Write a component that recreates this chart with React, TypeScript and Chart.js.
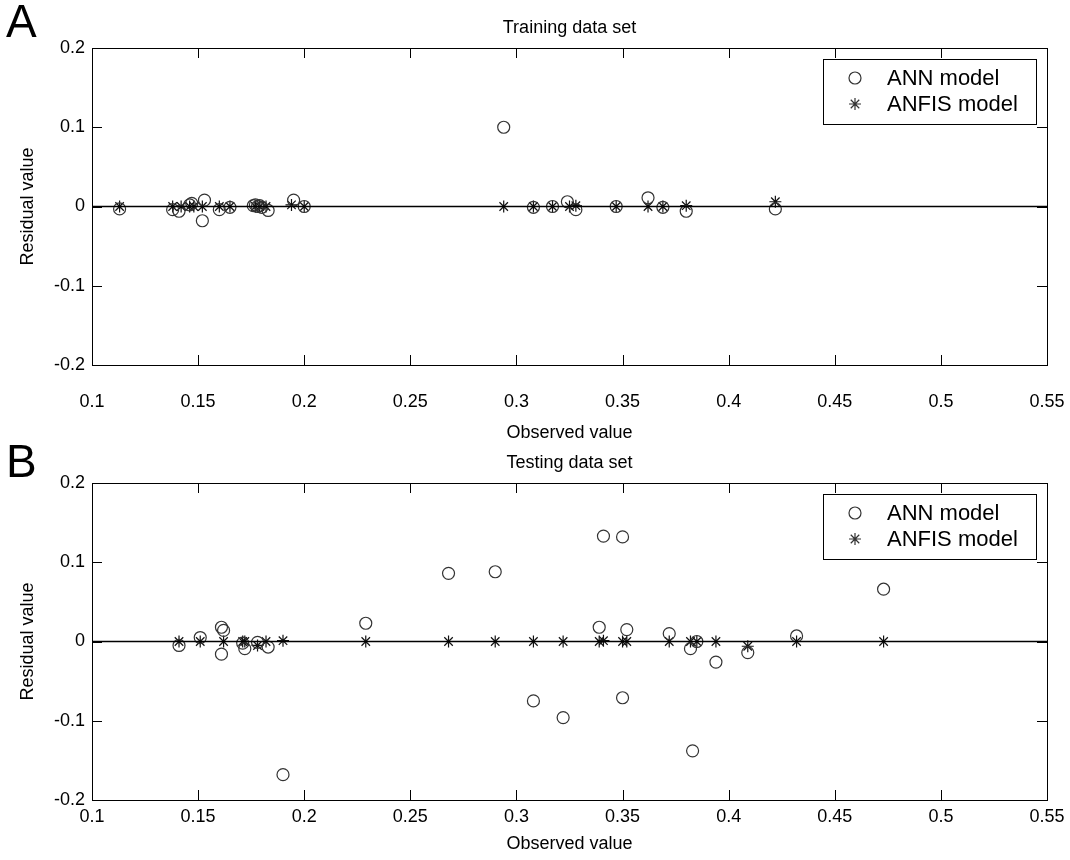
import React, { useEffect, useRef } from "react";
import { Chart, registerables } from "chart.js";

Chart.register(...registerables);

const FONT = "'Liberation Sans', Arial, sans-serif";

const X_MIN = 0.1;
const X_MAX = 0.55;
const Y_MIN = -0.2;
const Y_MAX = 0.2;
const xTicks = [0.1, 0.15, 0.2, 0.25, 0.3, 0.35, 0.4, 0.45, 0.5, 0.55];
const yTicks = [-0.2, -0.1, 0, 0.1, 0.2];

// Training data set
const trainAnnX = [0.113, 0.138, 0.141, 0.146, 0.147, 0.152, 0.153, 0.16, 0.165, 0.176, 0.177, 0.178, 0.179, 0.18, 0.183, 0.195, 0.2, 0.294, 0.308, 0.317, 0.324, 0.328, 0.347, 0.362, 0.369, 0.38, 0.422];
const trainAnnY = [-0.003, -0.004, -0.006, 0.002, 0.004, -0.018, 0.008, -0.004, -0.001, 0.001, 0.002, 0.0, 0.001, -0.001, -0.005, 0.008, 0.0, 0.1, -0.001, 0.0, 0.006, -0.004, 0.0, 0.011, -0.001, -0.006, -0.003];
const trainAnfisX = [0.113, 0.138, 0.142, 0.146, 0.148, 0.152, 0.16, 0.165, 0.177, 0.179, 0.182, 0.194, 0.2, 0.294, 0.308, 0.317, 0.325, 0.328, 0.347, 0.362, 0.369, 0.38, 0.422];
const trainAnfisY = [0, 0, 0, 0, 0, 0, 0, 0, 0, 0, 0, 0.002, 0, 0, 0, 0, 0, 0.001, 0, 0, 0, 0.001, 0.006];

// Testing data set
const testAnnX = [0.141, 0.151, 0.161, 0.162, 0.161, 0.171, 0.172, 0.178, 0.183, 0.19, 0.229, 0.268, 0.29, 0.308, 0.322, 0.339, 0.341, 0.35, 0.35, 0.352, 0.372, 0.382, 0.383, 0.385, 0.394, 0.409, 0.432, 0.473];
const testAnnY = [-0.005, 0.005, 0.018, 0.014, -0.016, -0.002, -0.009, -0.001, -0.007, -0.168, 0.023, 0.086, 0.088, -0.075, -0.096, 0.018, 0.133, 0.132, -0.071, 0.015, 0.01, -0.009, -0.138, 0.0, -0.026, -0.014, 0.007, 0.066];
const testAnfisX = [0.141, 0.151, 0.162, 0.171, 0.172, 0.178, 0.182, 0.19, 0.229, 0.268, 0.29, 0.308, 0.322, 0.339, 0.341, 0.35, 0.352, 0.372, 0.382, 0.385, 0.394, 0.409, 0.432, 0.473];
const testAnfisY = [0, 0, 0, 0, 0, -0.005, 0, 0.001, 0, 0, 0, 0, 0, 0, 0.001, 0, 0, 0, 0, 0, 0, -0.006, 0, 0];

const PANEL_W = 1070;
const PLOT_LEFT = 92;
const PLOT_RIGHT = 1047;
const PLOT_H = 317;

const fmt = (v: number) => String(parseFloat(Number(v).toFixed(2)));

function drawStar(ctx: CanvasRenderingContext2D, cx: number, cy: number, r: number) {
  ctx.beginPath();
  for (let k = 0; k < 4; k++) {
    const a = (k * Math.PI) / 4;
    ctx.moveTo(cx - r * Math.cos(a), cy - r * Math.sin(a));
    ctx.lineTo(cx + r * Math.cos(a), cy + r * Math.sin(a));
  }
  ctx.stroke();
}

type Layout = { height: number; plotTop: number; letterY: number; tickPad: number; titleBottom: number };

function makeFrame(letter: string, title: string, lay: Layout) {
  return {
    id: "frame" + letter,
    afterDatasetsDraw(chart: any) {
      const { ctx, chartArea, scales } = chart;
      const { left, right, top, bottom } = chartArea;
      const x = scales.x;
      const y = scales.y;
      ctx.save();
      ctx.strokeStyle = "#000";
      ctx.lineWidth = 1;
      ctx.strokeRect(Math.round(left) + 0.5, Math.round(top) + 0.5, Math.round(right - left), Math.round(bottom - top));
      const TL = 10;
      ctx.beginPath();
      for (const v of xTicks) {
        const px = Math.round(x.getPixelForValue(v)) + 0.5;
        ctx.moveTo(px, bottom);
        ctx.lineTo(px, bottom - TL);
        ctx.moveTo(px, top);
        ctx.lineTo(px, top + TL);
      }
      for (const v of yTicks) {
        const py = Math.round(y.getPixelForValue(v)) + 0.5;
        ctx.moveTo(left, py);
        ctx.lineTo(left + TL, py);
        ctx.moveTo(right, py);
        ctx.lineTo(right - TL, py);
      }
      ctx.stroke();

      ctx.fillStyle = "#000";
      ctx.font = `18px ${FONT}`;
      ctx.textAlign = "center";
      ctx.textBaseline = "middle";
      ctx.fillText(title, (left + right) / 2, top - 20);

      ctx.font = `46px ${FONT}`;
      ctx.textAlign = "left";
      ctx.textBaseline = "top";
      ctx.fillText(letter, 6, lay.letterY);

      // legend box
      const bx0 = right - 224;
      const bx1 = right - 11;
      const by0 = top + 11;
      const by1 = top + 76;
      ctx.fillStyle = "#fff";
      ctx.fillRect(bx0, by0, bx1 - bx0, by1 - by0);
      ctx.strokeStyle = "#000";
      ctx.lineWidth = 1;
      ctx.strokeRect(Math.round(bx0) + 0.5, Math.round(by0) + 0.5, Math.round(bx1 - bx0), Math.round(by1 - by0));
      const items = chart.data.datasets.filter((d: any) => d.label !== "zero");
      ctx.font = `22px ${FONT}`;
      ctx.textBaseline = "middle";
      items.forEach((d: any, i: number) => {
        const cy = by0 + 19 + i * 26;
        const sx = bx0 + 32;
        ctx.strokeStyle = "#333";
        ctx.lineWidth = 1.2;
        if (d.pointStyle === "star") {
          drawStar(ctx, sx, cy, 6);
        } else {
          ctx.beginPath();
          ctx.arc(sx, cy, 6, 0, Math.PI * 2);
          ctx.stroke();
        }
        ctx.fillStyle = "#000";
        ctx.fillText(d.label, bx0 + 64, cy + 1);
      });
      ctx.restore();
    },
  };
}

function Panel(props: { lay: Layout; letter: string; title: string; annX: number[]; annY: number[]; anfisX: number[]; anfisY: number[] }) {
  const ref = useRef<HTMLCanvasElement>(null);
  const lay = props.lay;
  const H = lay.height;
  useEffect(() => {
    const { letter, title, annX, annY, anfisX, anfisY } = props;
    const ann = annX.map((v, i) => ({ x: v, y: annY[i] }));
    const anfis = anfisX.map((v, i) => ({ x: v, y: anfisY[i] }));
    const xh = H - lay.plotTop - PLOT_H;
    const chart = new Chart(ref.current as HTMLCanvasElement, {
      type: "scatter",
      data: {
        datasets: [
          {
            type: "line",
            label: "zero",
            data: [
              { x: X_MIN, y: 0 },
              { x: X_MAX, y: 0 },
            ],
            borderColor: "#000",
            borderWidth: 1.5,
            pointRadius: 0,
          } as any,
          {
            label: "ANN model",
            data: ann,
            pointStyle: "circle",
            pointRadius: 6,
            backgroundColor: "rgba(0,0,0,0)",
            borderColor: "#333",
            borderWidth: 1.2,
          },
          {
            label: "ANFIS model",
            data: anfis,
            pointStyle: "star",
            pointRadius: 6,
            borderColor: "#111",
            borderWidth: 1.2,
          },
        ],
      },
      options: {
        animation: false,
        responsive: false,
        devicePixelRatio: 1,
        layout: { padding: { top: lay.plotTop, right: PANEL_W - PLOT_RIGHT, left: 0, bottom: 0 } },
        plugins: { legend: { display: false }, tooltip: { enabled: false }, title: { display: false } },
        scales: {
          x: {
            type: "linear",
            min: X_MIN,
            max: X_MAX,
            grid: { display: false, drawTicks: false },
            border: { display: false },
            afterBuildTicks: (s: any) => {
              s.ticks = xTicks.map((v) => ({ value: v }));
            },
            afterFit: (s: any) => {
              s.height = xh;
              s.paddingLeft = 0;
              s.paddingRight = 0;
            },
            ticks: { color: "#000", font: { family: FONT, size: 18 }, padding: lay.tickPad, maxRotation: 0, callback: (v: any) => fmt(v) },
            title: { display: true, text: "Observed value", color: "#000", font: { family: FONT, size: 18 }, padding: { top: 0, bottom: lay.titleBottom } },
          },
          y: {
            type: "linear",
            min: Y_MIN,
            max: Y_MAX,
            grid: { display: false, drawTicks: false },
            border: { display: false },
            afterBuildTicks: (s: any) => {
              s.ticks = yTicks.map((v) => ({ value: v }));
            },
            afterFit: (s: any) => {
              s.width = PLOT_LEFT;
              s.paddingTop = 0;
              s.paddingBottom = 0;
            },
            ticks: { color: "#000", font: { family: FONT, size: 18 }, padding: 7, callback: (v: any) => fmt(v) },
            title: { display: true, text: "Residual value", color: "#000", font: { family: FONT, size: 18 }, padding: { top: 17, bottom: 0 } },
          },
        },
      },
      plugins: [makeFrame(letter, title, lay)],
    });
    return () => chart.destroy();
  }, []);
  return <canvas ref={ref} width={PANEL_W} height={H} style={{ display: "block", width: PANEL_W, height: H }} />;
}

const LAYOUT_A: Layout = { height: 445, plotTop: 48, letterY: 1, tickPad: 26, titleBottom: 1 };
const LAYOUT_B: Layout = { height: 415, plotTop: 38, letterY: -4, tickPad: 6, titleBottom: 5 };

export default function App() {
  return (
    <div style={{ position: "absolute", left: 0, top: 0, width: 1070, height: 860, background: "#fff" }}>
      <Panel lay={LAYOUT_A} letter="A" title="Training data set" annX={trainAnnX} annY={trainAnnY} anfisX={trainAnfisX} anfisY={trainAnfisY} />
      <Panel lay={LAYOUT_B} letter="B" title="Testing data set" annX={testAnnX} annY={testAnnY} anfisX={testAnfisX} anfisY={testAnfisY} />
    </div>
  );
}
